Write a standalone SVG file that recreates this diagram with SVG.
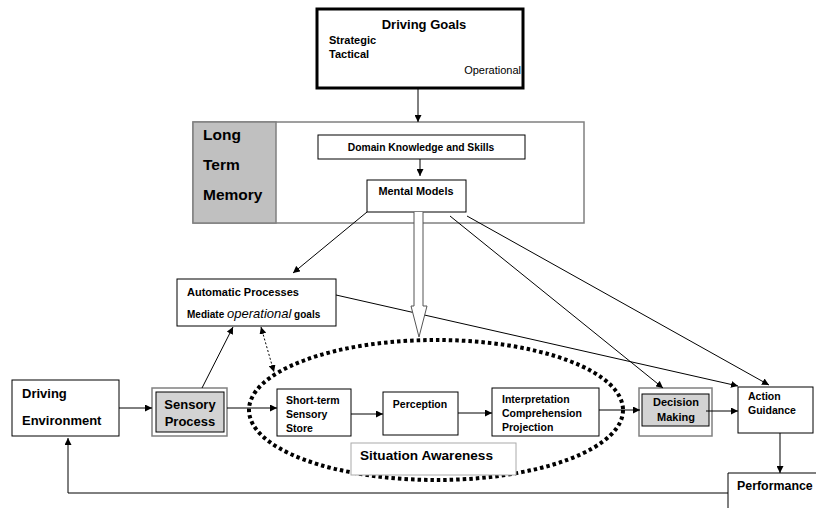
<svg xmlns="http://www.w3.org/2000/svg" width="816" height="508" viewBox="0 0 816 508">
<style>
text{font-family:"Liberation Sans",Arial,sans-serif;fill:#000}
.b{font-weight:bold}
.box{fill:#fff;stroke:#000;stroke-width:1}
.gbox{fill:#fff;stroke:#808080;stroke-width:1.5}
.ln{stroke:#000;stroke-width:1;fill:none}
</style>
<defs>
<marker id="ah" viewBox="0 0 10 10" refX="10" refY="5" markerWidth="7" markerHeight="7" orient="auto-start-reverse" markerUnits="userSpaceOnUse">
<path d="M0,0 L10,5 L0,10 z" fill="#000"/>
</marker>
</defs>
<rect width="816" height="508" fill="#fff"/>

<g id="situation-awareness">
<ellipse cx="436" cy="410" rx="187" ry="70" fill="none" stroke="#000" stroke-width="4" stroke-dasharray="3.5 3"/>
<rect x="351" y="443" width="165" height="32" fill="#fff" stroke="#aaa" stroke-width="1"/>
<text x="360" y="460" font-size="13.6" class="b">Situation Awareness</text>
</g>

<g id="driving-goals">
<rect x="317" y="9" width="206" height="79" fill="#fff" stroke="#000" stroke-width="3"/>
<text x="424" y="29" font-size="13" class="b" text-anchor="middle">Driving Goals</text>
<text x="329" y="44" font-size="11" class="b">Strategic</text>
<text x="329" y="58" font-size="11" class="b">Tactical</text>
<text x="521" y="74" font-size="11" text-anchor="end">Operational</text>
</g>

<g id="long-term-memory">
<rect x="193" y="122" width="391" height="101" class="gbox"/>
<rect x="193" y="122" width="83" height="101" fill="#c0c0c0" stroke="#808080" stroke-width="1.5"/>
<text x="203" y="140" font-size="15.5" class="b">Long</text>
<text x="203" y="170" font-size="15.5" class="b">Term</text>
<text x="203" y="200" font-size="15.5" class="b">Memory</text>
</g>

<g id="domain-knowledge">
<rect x="318" y="135" width="207" height="24" class="box"/>
<text x="421" y="151" font-size="10.3" class="b" text-anchor="middle">Domain Knowledge and Skills</text>
</g>

<g id="mental-models">
<rect x="367" y="180" width="99" height="32" class="box"/>
<text x="416" y="195" font-size="10.9" class="b" text-anchor="middle">Mental Models</text>
</g>

<g id="automatic-processes">
<rect x="177" y="279" width="159" height="47" class="box"/>
<text x="187" y="296" font-size="11" class="b">Automatic Processes</text>
<text x="187" y="318" font-size="10" class="b">Mediate <tspan font-size="13" font-style="italic" font-weight="normal">operational</tspan> goals</text>
</g>

<g id="driving-environment">
<rect x="12" y="380" width="107" height="56" class="box"/>
<text x="22" y="398" font-size="13" class="b">Driving</text>
<text x="22" y="425" font-size="13" class="b">Environment</text>
</g>

<g id="sensory-process">
<rect x="152" y="388" width="75" height="48" class="gbox"/>
<rect x="156" y="392" width="68" height="40" fill="#d3d3d3" stroke="#000" stroke-width="1"/>
<text x="190" y="409" font-size="13" class="b" text-anchor="middle">Sensory</text>
<text x="190" y="426" font-size="13" class="b" text-anchor="middle">Process</text>
</g>

<g id="short-term">
<rect x="277" y="389" width="74" height="47" class="box"/>
<text x="286" y="404" font-size="10.5" class="b">Short-term</text>
<text x="286" y="418" font-size="10.5" class="b">Sensory</text>
<text x="286" y="432" font-size="10.5" class="b">Store</text>
</g>

<g id="perception">
<rect x="383" y="392" width="75" height="43" class="box"/>
<text x="420" y="408" font-size="10.5" class="b" text-anchor="middle">Perception</text>
</g>

<g id="interpretation">
<rect x="492" y="388" width="107" height="48" class="box"/>
<text x="502" y="403" font-size="10.5" class="b">Interpretation</text>
<text x="502" y="417" font-size="10.5" class="b">Comprehension</text>
<text x="502" y="431" font-size="10.5" class="b">Projection</text>
</g>

<g id="decision-making">
<rect x="639" y="388" width="73" height="48" class="gbox"/>
<rect x="642" y="394" width="67" height="32" fill="#d3d3d3" stroke="#000" stroke-width="1"/>
<text x="676" y="406" font-size="11" class="b" text-anchor="middle">Decision</text>
<text x="676" y="421" font-size="11" class="b" text-anchor="middle">Making</text>
</g>

<g id="action-guidance">
<rect x="738" y="387" width="75" height="46" class="box"/>
<text x="748" y="400" font-size="10.5" class="b">Action</text>
<text x="748" y="414" font-size="10.5" class="b">Guidance</text>
</g>

<g id="performance">
<polyline points="728,508 728,473 816,473" fill="none" stroke="#000" stroke-width="1"/>
<text x="737" y="490" font-size="12.4" class="b">Performance</text>
</g>

<g id="connectors">
<line class="ln" x1="418" y1="88" x2="418" y2="122" marker-end="url(#ah)"/>
<line class="ln" x1="420" y1="159" x2="420" y2="176" marker-end="url(#ah)"/>
<line class="ln" x1="367" y1="212" x2="293" y2="273" marker-end="url(#ah)"/>
<line class="ln" x1="450" y1="216" x2="663" y2="388" marker-end="url(#ah)"/>
<line class="ln" x1="467" y1="216" x2="769" y2="385" marker-end="url(#ah)"/>
<line class="ln" x1="336" y1="295" x2="738" y2="386" marker-end="url(#ah)"/>
<line class="ln" x1="202" y1="388" x2="233" y2="327" marker-end="url(#ah)"/>
<line class="ln" x1="261" y1="327" x2="274" y2="372" stroke-dasharray="2 2" marker-start="url(#ah)" marker-end="url(#ah)"/>
<line class="ln" x1="119" y1="408" x2="152" y2="408" marker-end="url(#ah)"/>
<line class="ln" x1="227" y1="408" x2="277" y2="408" marker-end="url(#ah)"/>
<line class="ln" x1="351" y1="414" x2="383" y2="414" marker-end="url(#ah)"/>
<line class="ln" x1="458" y1="413" x2="492" y2="413" marker-end="url(#ah)"/>
<line class="ln" x1="599" y1="410" x2="640" y2="410" marker-end="url(#ah)"/>
<line class="ln" x1="706" y1="411" x2="738" y2="411" marker-end="url(#ah)"/>
<line class="ln" x1="780" y1="433" x2="780" y2="473" marker-end="url(#ah)"/>
<polyline class="ln" points="728,493 68,493 68,438" marker-end="url(#ah)"/>
<path d="M414,212 L414,306 L411,306 L419,337 L427,306 L423,306 L423,212" fill="#fff" stroke="#555" stroke-width="1"/>
</g>
</svg>
